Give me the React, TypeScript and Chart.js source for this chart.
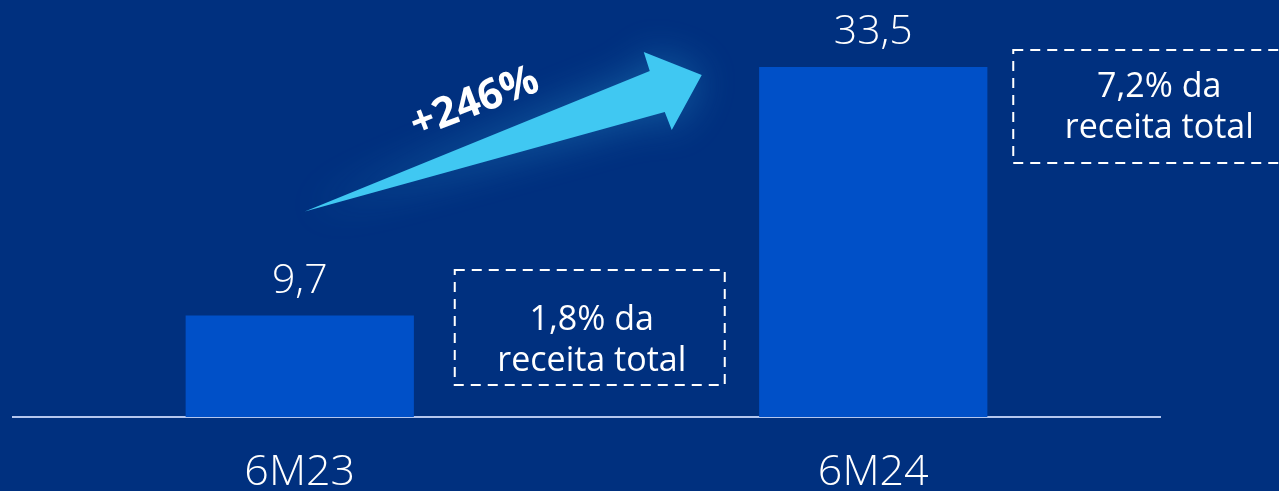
import React, { useEffect, useRef } from "react";
import { Chart, registerables } from "chart.js";

Chart.register(...registerables);

const categories = ["6M23", "6M24"];
const values = [9.7, 33.5];
const valueLabels = ["9,7", "33,5"];
const shareLines = [
  ["1,8% da", "receita total"],
  ["7,2% da", "receita total"],
];
const growthLabel = "+246%";

const BG = "#00307f";
const BAR = "#0050c8";
const ARROW = "#40c8f2";

const annotations = {
  id: "annotations",
  afterDatasetsDraw(chart: any) {
    const ctx = chart.ctx as CanvasRenderingContext2D;
    const meta = chart.getDatasetMeta(0);
    const b1 = meta.data[0];
    const b2 = meta.data[1];
    const base = chart.scales.y.getPixelForValue(0);

    // value labels
    ctx.save();
    ctx.fillStyle = "#ffffff";
    ctx.font = "300 41px 'Open Sans'";
    ctx.textAlign = "center";
    ctx.textBaseline = "alphabetic";
    meta.data.forEach((bar: any, i: number) => {
      ctx.fillText(valueLabels[i], bar.x, bar.y - 23);
    });
    ctx.restore();

    // dashed boxes
    const boxes = [
      { l: b1.x + 155, r: b1.x + 425, t: base - 147, b: base - 32, dy: 0 },
      { l: b2.x + 140, r: b2.x + 420, t: b2.y - 17, b: b2.y + 96, dy: -11 },
    ];
    const textCenters = [b1.x + 292, b2.x + 286];
    boxes.forEach((bx, i) => {
      ctx.save();
      ctx.strokeStyle = "#ffffff";
      ctx.lineWidth = 2;
      ctx.setLineDash([10, 7]);
      ctx.strokeRect(bx.l, bx.t, bx.r - bx.l, bx.b - bx.t);
      ctx.restore();
      ctx.save();
      ctx.fillStyle = "#ffffff";
      ctx.font = "400 34px 'Open Sans'";
      ctx.textAlign = "center";
      ctx.textBaseline = "alphabetic";
      const midY = (bx.t + bx.b) / 2 + bx.dy;
      ctx.fillText(shareLines[i][0], textCenters[i], midY + 2);
      ctx.fillText(shareLines[i][1], textCenters[i], midY + 43);
      ctx.restore();
    });

    // arrow
    const tail = { x: b1.x + 5, y: b1.y - 104 };
    ctx.save();
    ctx.shadowColor = "rgba(64,200,242,0.3)";
    ctx.shadowBlur = 40;
    ctx.fillStyle = ARROW;
    ctx.beginPath();
    ctx.moveTo(tail.x, tail.y);
    ctx.lineTo(b1.x + 350, b2.y + 4);
    ctx.lineTo(b1.x + 344, b2.y - 15);
    ctx.lineTo(b1.x + 402, b2.y + 8);
    ctx.lineTo(b1.x + 372, b2.y + 63);
    ctx.lineTo(b1.x + 365, b2.y + 45);
    ctx.closePath();
    ctx.fill();
    ctx.restore();

    // growth label
    ctx.save();
    ctx.translate(b1.x + 175, b2.y + 36);
    ctx.rotate((-21 * Math.PI) / 180);
    ctx.fillStyle = "#ffffff";
    ctx.font = "700 42px 'Open Sans'";
    ctx.textAlign = "center";
    ctx.textBaseline = "middle";
    ctx.fillText(growthLabel, 0, 0);
    ctx.restore();
  },
};

export default function App() {
  const ref = useRef<HTMLCanvasElement>(null);
  useEffect(() => {
    if (!ref.current) return;
    const chart = new Chart(ref.current, {
      type: "bar",
      data: {
        labels: categories,
        datasets: [
          {
            data: values,
            backgroundColor: BAR,
            borderWidth: 0,
            categoryPercentage: 1,
            barPercentage: 0.398,
          },
        ],
      },
      options: {
        animation: false,
        responsive: false,
        devicePixelRatio: 1,
        layout: { padding: { left: 13, right: 119, top: 0, bottom: 0 } },
        plugins: {
          legend: { display: false },
          tooltip: { enabled: false },
        },
        scales: {
          x: {
            grid: { display: false, drawTicks: false },
            border: { display: true, color: "#b4c6ee", width: 2 },
            ticks: {
              color: "#ffffff",
              font: { family: "'Open Sans'", size: 43, weight: "300" as any },
              padding: 30,
            },
            afterFit: (s: any) => {
              s.height = 74;
            },
          },
          y: {
            display: false,
            min: 0,
            max: 39.9,
          },
        },
      },
      plugins: [annotations],
    });
    return () => chart.destroy();
  }, []);
  return (
    <div
      style={{
        position: "fixed",
        left: 0,
        top: 0,
        width: 1279,
        height: 491,
        background: BG,
        overflow: "hidden",
      }}
    >
      <canvas ref={ref} width={1279} height={491} style={{ display: "block" }} />
    </div>
  );
}
